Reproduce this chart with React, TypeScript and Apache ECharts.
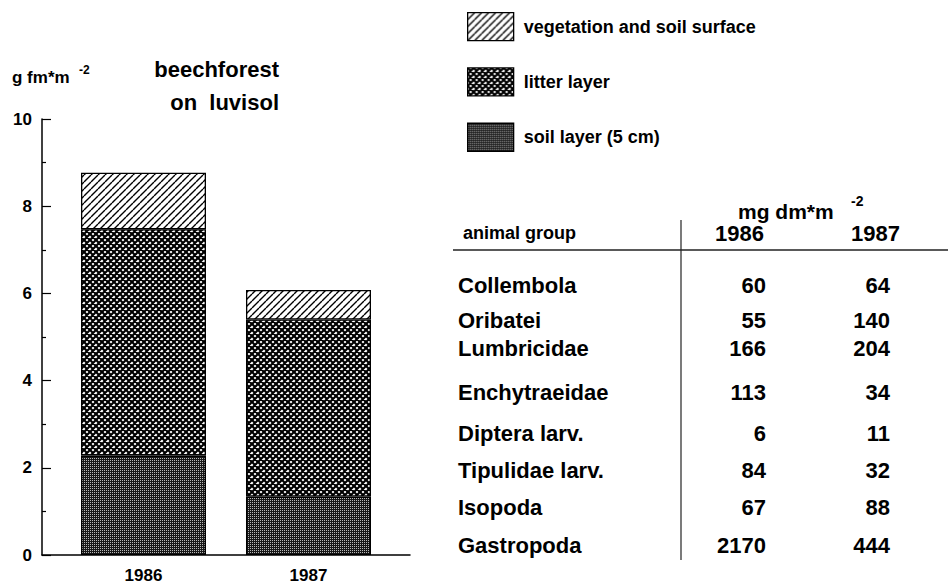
import React, { useEffect, useRef } from 'react';
import * as echarts from 'echarts';

// ---- data ----
const YEARS = ['1986', '1987'];
const LAYER_NAMES = ['vegetation and soil surface', 'litter layer', 'soil layer (5 cm)'];
const SOIL_LAYER = [2.28, 1.34];
const LITTER_LAYER = [5.19, 4.06];
const VEGETATION = [1.3, 0.68];
const Y_MIN = 0;
const Y_MAX = 10;
const Y_STEP = 2;

const ANIMAL_GROUPS = [
  'Collembola',
  'Oribatei',
  'Lumbricidae',
  'Enchytraeidae',
  'Diptera larv.',
  'Tipulidae larv.',
  'Isopoda',
  'Gastropoda',
];
const MG_1986 = [60, 55, 166, 113, 6, 84, 67, 2170];
const MG_1987 = [64, 140, 204, 34, 11, 32, 88, 444];

// ---- layout (not data) ----
const ROW_Y = [285, 320, 348, 392, 433, 470, 507, 545];
const FONT = '"Liberation Sans", Arial, Helvetica, sans-serif';

function makeCanvas(w: number, h: number, draw: (ctx: CanvasRenderingContext2D) => void) {
  const c = document.createElement('canvas');
  c.width = w;
  c.height = h;
  const ctx = c.getContext('2d') as CanvasRenderingContext2D;
  draw(ctx);
  return c;
}

function hatchPattern() {
  const p = 7;
  return makeCanvas(p, p, (ctx) => {
    ctx.fillStyle = '#fff';
    ctx.fillRect(0, 0, p, p);
    ctx.strokeStyle = '#000';
    ctx.lineWidth = 1.4;
    ctx.beginPath();
    for (const x0 of [-p, 0, p]) {
      ctx.moveTo(x0, p);
      ctx.lineTo(x0 + p, 0);
    }
    ctx.stroke();
  });
}

function crossPattern() {
  const p = 6;
  return makeCanvas(p, p, (ctx) => {
    ctx.fillStyle = '#fff';
    ctx.fillRect(0, 0, p, p);
    ctx.strokeStyle = '#000';
    ctx.lineWidth = 2.2;
    ctx.beginPath();
    for (const x0 of [-p, 0, p]) {
      ctx.moveTo(x0, p);
      ctx.lineTo(x0 + p, 0);
      ctx.moveTo(x0, 0);
      ctx.lineTo(x0 + p, p);
    }
    ctx.stroke();
  });
}

function densePattern() {
  return makeCanvas(2, 2, (ctx) => {
    ctx.fillStyle = '#181818';
    ctx.fillRect(0, 0, 2, 2);
    ctx.fillStyle = '#b8b8b8';
    ctx.fillRect(0, 0, 1, 1);
  });
}

export default function App() {
  const ref = useRef<HTMLDivElement>(null);

  useEffect(() => {
    document.body.style.margin = '0';
    if (!ref.current) return;
    const chart = echarts.init(ref.current, undefined, { renderer: 'svg' });

    const patterns = [
      { image: hatchPattern(), repeat: 'repeat' },
      { image: crossPattern(), repeat: 'repeat' },
      { image: densePattern(), repeat: 'repeat' },
    ];
    const values = [VEGETATION, LITTER_LAYER, SOIL_LAYER];

    const barBorder = { borderColor: '#000', borderWidth: 1.3 };
    // stacked bottom to top: soil, litter, vegetation
    const order = [2, 1, 0];
    const series = order.map((i) => ({
      name: LAYER_NAMES[i],
      type: 'bar',
      stack: 'total',
      xAxisIndex: 1,
      yAxisIndex: 1,
      barWidth: 125,
      data: values[i],
      itemStyle: { color: patterns[i] as any, ...barBorder },
      emphasis: { disabled: true },
    }));

    const txt = (
      text: string,
      x: number,
      y: number,
      size: number,
      align: string = 'left',
      weight: string = 'bold'
    ) => ({
      type: 'text',
      x,
      y,
      style: {
        text,
        font: `${weight} ${size}px ${FONT}`,
        fill: '#000',
        textAlign: align,
        textVerticalAlign: 'middle',
      },
    });

    const graphics: any[] = [
      // chart title & unit
      txt('beechforest', 279, 69, 22, 'right'),
      txt('on  luvisol', 279, 102, 22, 'right'),
      txt('g fm*m', 12, 77, 17),
      txt('-2', 79, 70, 12),
      // table header
      txt('mg dm*m', 738, 211, 21),
      txt('-2', 851, 201, 14),
      txt('animal group', 463, 233, 18),
      txt(YEARS[0], 764, 233, 22, 'right'),
      txt(YEARS[1], 900, 233, 22, 'right'),
      {
        type: 'line',
        shape: { x1: 453, y1: 250, x2: 948, y2: 250 },
        style: { stroke: '#222', lineWidth: 1.3 },
      },
      {
        type: 'line',
        shape: { x1: 681, y1: 220, x2: 681, y2: 560 },
        style: { stroke: '#222', lineWidth: 1.2 },
      },
    ];
    ANIMAL_GROUPS.forEach((g, i) => {
      graphics.push(txt(g, 458, ROW_Y[i], 22));
      graphics.push(txt(String(MG_1986[i]), 766, ROW_Y[i], 22, 'right'));
      graphics.push(txt(String(MG_1987[i]), 890, ROW_Y[i], 22, 'right'));
    });

    chart.setOption({
      animation: false,
      backgroundColor: '#fff',
      textStyle: { fontFamily: FONT },
      legend: {
        orient: 'vertical',
        left: 467,
        top: 12,
        padding: 0,
        itemWidth: 46,
        itemHeight: 28,
        itemGap: 26,
        selectedMode: false,
        data: LAYER_NAMES.map((n) => ({ name: n, icon: 'rect' })),
        textStyle: {
          fontSize: 18,
          fontWeight: 'bold',
          color: '#000',
          fontFamily: FONT,
          padding: [0, 0, 0, 5],
        },
        itemStyle: { borderColor: '#000', borderWidth: 1.3 },
      },
      grid: [
        { left: 42, top: 119, width: 368, height: 436 },
        { left: 61, top: 119, width: 330, height: 436 },
      ],
      xAxis: [
        {
          gridIndex: 0,
          type: 'value',
          min: 0,
          max: 1,
          axisLine: { show: true, lineStyle: { color: '#000', width: 1.5 } },
          axisTick: { show: false },
          axisLabel: { show: false },
          splitLine: { show: false },
        },
        {
          gridIndex: 1,
          type: 'category',
          data: YEARS,
          axisLine: { show: false },
          axisTick: { show: false },
          axisLabel: {
            fontSize: 17,
            fontWeight: 'bold',
            color: '#000',
            margin: 12,
            fontFamily: FONT,
          },
        },
      ],
      yAxis: [
        {
          gridIndex: 0,
          type: 'value',
          min: Y_MIN,
          max: Y_MAX,
          interval: Y_STEP,
          axisLine: { show: true, lineStyle: { color: '#000', width: 1.5 } },
          axisTick: { show: true, inside: true, length: 9, lineStyle: { color: '#000', width: 1.2 } },
          minorTick: { show: true, splitNumber: 2, length: 4, lineStyle: { color: '#000', width: 1.2 } },
          axisLabel: {
            fontSize: 17,
            fontWeight: 'bold',
            color: '#000',
            margin: 10,
            fontFamily: FONT,
          },
          splitLine: { show: false },
        },
        {
          gridIndex: 1,
          type: 'value',
          min: Y_MIN,
          max: Y_MAX,
          show: false,
          splitLine: { show: false },
        },
      ],
      series,
      graphic: graphics,
    });

    return () => chart.dispose();
  }, []);

  return (
    <div
      ref={ref}
      style={{ position: 'fixed', left: 0, top: 0, width: 948, height: 584, background: '#fff' }}
    />
  );
}
